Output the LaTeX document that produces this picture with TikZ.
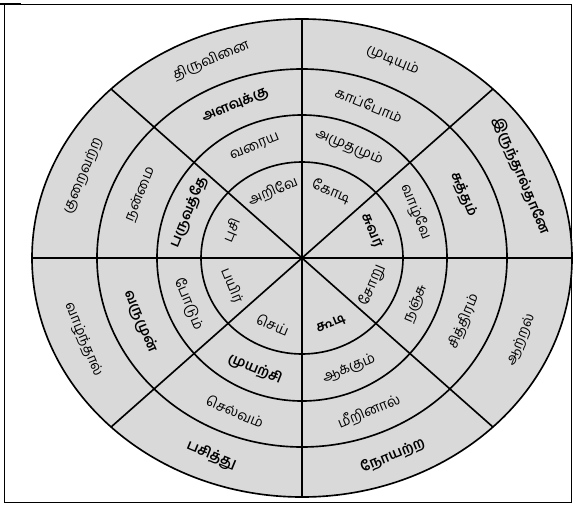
\documentclass[tikz,border=0pt]{standalone}
\usepackage{fontspec}
\usepackage{xcolor}
\usepackage{tikz}
\newfontfamily\tamilfont[Script=Tamil]{Hind Madurai}
\definecolor{wheelgray}{RGB}{217, 217, 217}
\tikzset{
  ringline/.style={line width=1.4pt, black},
  word/.style={font=\tamilfont\fontsize{12}{14}\selectfont, inner sep=0pt},
  boldword/.style={word, font=\tamilfont\bfseries\fontsize{12}{14}\selectfont}
}

\begin{document}
\begin{tikzpicture}[x=0.03cm, y=0.03cm]
    \useasboundingbox (-302,-246) rectangle (271,258);
    \coordinate (ctr) at (0,0);

    % Frame
    \draw[line width=0.5pt] (-298,-244) rectangle (269,254);
    \draw[line width=2pt] (-302,254) -- (-281,254);

    % Wheel
    \fill[wheelgray] (ctr) ellipse [x radius=270, y radius=239];
    \draw[ringline] (ctr) ellipse [x radius=270, y radius=239];
    \draw[ringline] (ctr) ellipse [x radius=205, y radius=189];
    \draw[ringline] (ctr) ellipse [x radius=145, y radius=143];
    \draw[ringline] (ctr) ellipse [x radius=101, y radius=96];

    % Spokes
    \draw[ringline] (-270,0) -- (270,0);
    \draw[ringline] (0,-239) -- (0,239);
    \draw[ringline] (45:270 and 239) -- (225:270 and 239);
    \draw[ringline] (135:270 and 239) -- (315:270 and 239);

    % Sector 112.5
    \node[word, rotate=22.5] (w11) at (112.5:76 and 72) {அறிவே};
    \node[word, rotate=22.5] (w12) at (112.5:123 and 120) {வரைய};
    \node[boldword, rotate=22.5] (w13) at (112.5:175 and 166) {அளவுக்கு};
    \node[word, rotate=22.5] (w14) at (112.5:237 and 214) {திருவினை};

    % Sector 67.5
    \node[word, rotate=-22.5] (w21) at (67.5:76 and 72) {கோடி};
    \node[word, rotate=-22.5] (w22) at (67.5:123 and 120) {அமுதமும்};
    \node[word, rotate=-22.5] (w23) at (67.5:175 and 166) {காப்போம்};
    \node[word, rotate=-22.5] (w24) at (67.5:237 and 214) {முடியும்};

    % Sector 22.5
    \node[boldword, rotate=-67.5] (w31) at (22.5:76 and 72) {சுவர்};
    \node[word, rotate=-67.5] (w32) at (22.5:123 and 120) {வாழ்வே};
    \node[boldword, rotate=-67.5] (w33) at (22.5:175 and 166) {சுத்தம்};
    \node[boldword, rotate=-67.5] (w34) at (22.5:237 and 214) {இருந்தால்தானே};

    % Sector 337.5
    \node[word, rotate=67.5] (w41) at (337.5:76 and 72) {சோறு};
    \node[word, rotate=67.5] (w42) at (337.5:123 and 120) {நஞ்சு};
    \node[word, rotate=67.5] (w43) at (337.5:175 and 166) {சித்திரம்};
    \node[word, rotate=67.5] (w44) at (337.5:237 and 214) {ஆற்றல்};

    % Sector 292.5
    \node[boldword, rotate=22.5] (w51) at (292.5:76 and 72) {கூடி};
    \node[word, rotate=22.5] (w52) at (292.5:123 and 120) {ஆக்கும்};
    \node[word, rotate=22.5] (w53) at (292.5:175 and 166) {மீறினால்};
    \node[boldword, rotate=22.5] (w54) at (292.5:237 and 214) {நோயற்ற};

    % Sector 247.5
    \node[word, rotate=-22.5] (w61) at (247.5:76 and 72) {செய்};
    \node[boldword, rotate=-22.5] (w62) at (247.5:123 and 120) {முயற்சி};
    \node[word, rotate=-22.5] (w63) at (247.5:175 and 166) {செல்வம்};
    \node[boldword, rotate=-22.5] (w64) at (247.5:237 and 214) {பசித்து};

    % Sector 202.5
    \node[word, rotate=-67.5] (w71) at (202.5:76 and 72) {பயிர்};
    \node[word, rotate=-67.5] (w72) at (202.5:123 and 120) {போடும்};
    \node[boldword, rotate=-67.5] (w73) at (202.5:175 and 166) {வருமுன்};
    \node[word, rotate=-67.5] (w74) at (202.5:237 and 214) {வாழ்ந்தால்};

    % Sector 157.5
    \node[word, rotate=67.5] (w81) at (157.5:76 and 72) {புசி};
    \node[boldword, rotate=67.5] (w82) at (157.5:123 and 120) {பருவத்தே};
    \node[word, rotate=67.5] (w83) at (157.5:175 and 166) {நன்மை};
    \node[word, rotate=67.5] (w84) at (157.5:237 and 214) {குறைவற்ற};
\end{tikzpicture}
\end{document}
